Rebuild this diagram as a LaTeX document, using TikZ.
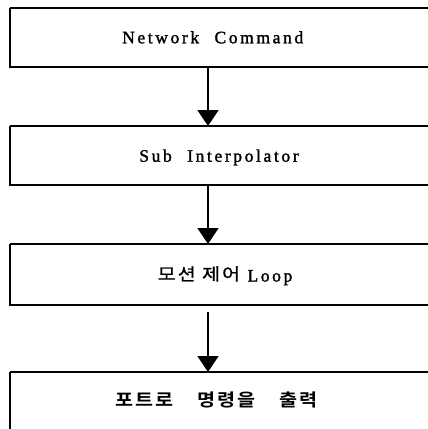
\documentclass[tikz,border=0pt]{standalone}
\usepackage{fontspec}
\setmainfont{Liberation Serif}[LetterSpace=15,WordSpace=2.2,FakeBold=1.5]
\newfontfamily\kfont{Noto Sans CJK KR}[FakeStretch=1.15,LetterSpace=12,WordSpace=1.0,FakeBold=0.8]
\newfontfamily\kbfont{Noto Sans CJK KR Bold}[FakeStretch=1.12,LetterSpace=12,WordSpace=3.6]
\usetikzlibrary{arrows.meta}
\tikzset{
  lbl/.style={font=\fontsize{17.5pt}{20pt}\selectfont, anchor=base, inner sep=0pt},
  flow/.style={line width=1.7pt, -{Triangle[length=16pt,width=21pt]}},
  edge/.style={line width=2pt}
}
\begin{document}
\begin{tikzpicture}[x=1pt,y=1pt]
\fill[white] (0,0) rectangle (428,-429);
\useasboundingbox (0,0) rectangle (428,-429);
\begin{scope}
\clip (0,0) rectangle (428,-429);
\coordinate (b1nw) at (10,-8);  \coordinate (b1se) at (440,-67);
\coordinate (b2nw) at (10,-126); \coordinate (b2se) at (440,-185);
\coordinate (b3nw) at (10,-244); \coordinate (b3se) at (440,-305);
\coordinate (b4nw) at (10,-372);  \coordinate (b4se) at (440,-450);
\draw[edge] (b1nw) -- (b1nw |- b1se) -- (b1se);
\draw[edge] (b1nw) -- (b1nw -| b1se);
\draw[edge] (b2nw) -- (b2nw |- b2se) -- (b2se);
\draw[edge] (b2nw) -- (b2nw -| b2se);
\draw[edge] (b3nw) -- (b3nw |- b3se) -- (b3se);
\draw[edge] (b3nw) -- (b3nw -| b3se);
\draw[edge] (b4nw) -- (b4nw |- b4se);
\draw[edge] (b4nw) -- (b4nw -| b4se);
\end{scope}
\node[lbl] (t1) at (212.7,-43.3) {Network Command};
\node[lbl] (t2) at (219,-161.7) {Sub Interpolator};
\node[lbl] (t3) at (225,-281.5) {{\fontsize{17pt}{20pt}\kfont\raisebox{1.2pt}{모션 제어}}\hspace{-8pt} Loop};
\node[lbl] (t4) at (216.5,-406) {\fontsize{17.5pt}{20pt}\kbfont 포트로 명령을 출력};
\coordinate (a1) at (208,-67);
\coordinate (a2) at (208,-185);
\coordinate (a3) at (208,-312);
\draw[flow] (a1) -- (a1 |- b2nw);
\draw[flow] (a2) -- (a2 |- b3nw);
\draw[flow] (a3) -- (a3 |- b4nw);
\end{tikzpicture}
\end{document}
